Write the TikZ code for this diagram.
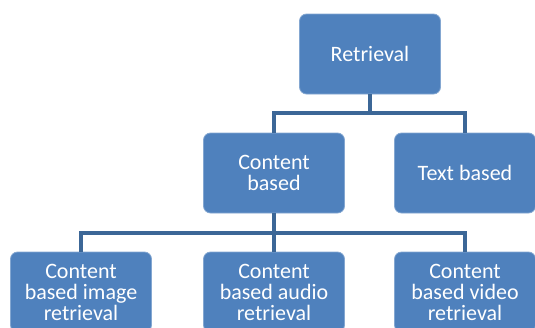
\documentclass[tikz,border=0pt]{standalone}
\usepackage{fontspec}
\setmainfont{Carlito}
\usepackage{tikz}
\usetikzlibrary{positioning,calc}
\definecolor{boxblue}{HTML}{4F81BD}
\definecolor{lineblue}{HTML}{3C6797}

\begin{document}
\begin{tikzpicture}[x=1pt, y=-1pt, line width=4.5pt]
   \useasboundingbox (0,0) rectangle (535,327);
   \begin{scope}[every node/.style={rectangle, rounded corners=7pt, fill=boxblue, draw=boxblue!70!white, line width=0.8pt,
        text=white, align=center, minimum width=141pt, minimum height=80pt, inner sep=2pt,
        font=\fontsize{22}{21}\selectfont}]
    \node (ret) at (370,54) {Retrieval};
    \node (cb)  at (274,173) {Content\\based};
    \node (tb)  at (465,173) {Text based};
    \node (cbi) at (81,292)  {Content\\based image\\retrieval};
    \node (cba) at (274,292) {Content\\based audio\\retrieval};
    \node (cbv) at (465,292) {Content\\based video\\retrieval};
   \end{scope}
   \begin{scope}[draw=lineblue]
    \coordinate (bus1) at (370,113);
    \coordinate (bus2) at (274,233);
    \draw (ret.south) -- (bus1);
    \draw (cb.north) |- (bus1) -| (tb.north);
    \draw (cb.south) -- (cba.north);
    \draw (cbi.north) |- (bus2) -| (cbv.north);
   \end{scope}
\end{tikzpicture}
\end{document}
